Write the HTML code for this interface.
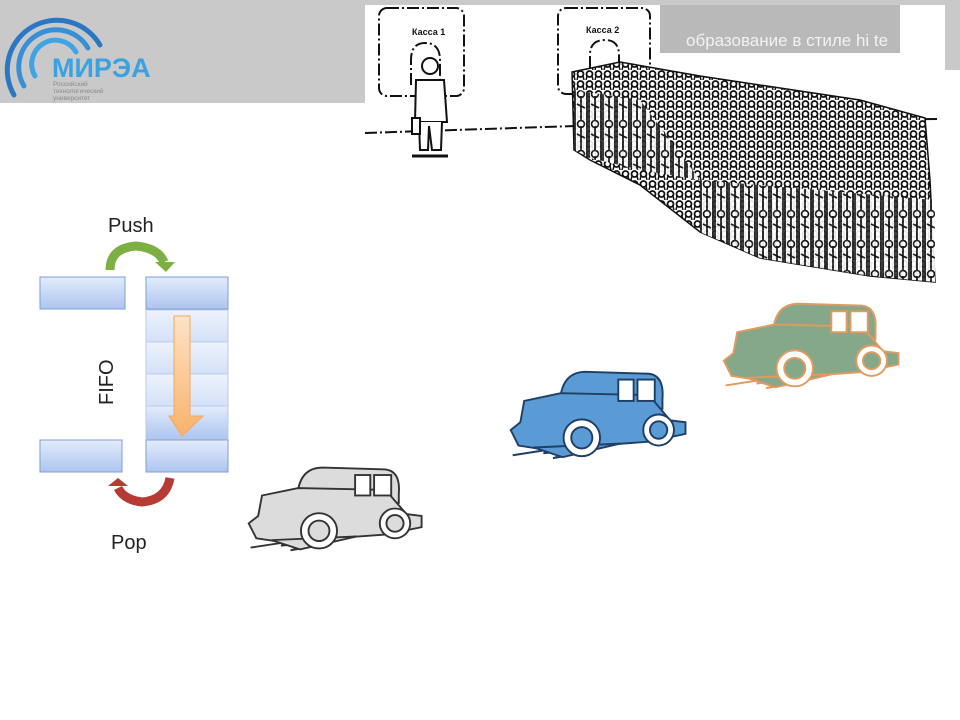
<!DOCTYPE html>
<html><head><meta charset="utf-8"><style>
html,body{margin:0;padding:0;background:#fff;}
body{width:960px;height:720px;position:relative;overflow:hidden;font-family:"Liberation Sans","DejaVu Sans",sans-serif;}
</style></head><body>
<svg width="960" height="720" viewBox="0 0 960 720" xmlns="http://www.w3.org/2000/svg" style="position:absolute;left:0;top:0">
<defs>
  <linearGradient id="bl" x1="0" y1="0" x2="0" y2="1">
    <stop offset="0" stop-color="#e3ecfc"/><stop offset="1" stop-color="#adc5ef"/>
  </linearGradient>
  <linearGradient id="bl2" x1="0" y1="0" x2="0" y2="1">
    <stop offset="0" stop-color="#eef3fd"/><stop offset="1" stop-color="#d3e0f7"/>
  </linearGradient>
  <linearGradient id="or" x1="0" y1="0" x2="0" y2="1">
    <stop offset="0" stop-color="#fde3c8"/><stop offset="1" stop-color="#f8b26a"/>
  </linearGradient>
  <pattern id="crowd" width="9" height="10" patternUnits="userSpaceOnUse">
    <rect width="9" height="10" fill="#fff"/>
    <circle cx="4.5" cy="4" r="3" fill="none" stroke="#111" stroke-width="1.8"/>
    <path d="M1 10 L2 6 M8 10 L7 6" stroke="#111" stroke-width="1.5"/>
  </pattern>
  <pattern id="bodies" width="14" height="30" patternUnits="userSpaceOnUse">
    <rect width="14" height="30" fill="#fff"/>
    <path d="M1 0 L1 30 M13 0 L13 30 M7 6 L7 30 M3 14 L11 18" stroke="#111" stroke-width="1.8"/>
    <circle cx="7" cy="4" r="3.5" fill="none" stroke="#111" stroke-width="1.6"/>
  </pattern>
  <g id="car">
    <path d="M8 92 L60 84 L40 90 L80 86 L50 95 L90 88" fill="none" stroke-width="2"/>
    <path d="M58 30 Q62 6 84 6 L150 8 Q166 10 164 34 L164 44 L60 40 Z"/>
    <path d="M20 36 L58 28 L150 30 L172 56 L188 58 L188 70 L150 78 L40 86 L14 82 L6 66 L16 58 Z"/>
    <path d="M30 84 L120 80 L60 94 Z"/>
  </g>
</defs>

<!-- header -->
<rect x="0" y="0" width="365" height="103" fill="#c9c9c9"/>
<rect x="365" y="0" width="595" height="5" fill="#c9c9c9"/>
<rect x="945" y="0" width="15" height="70" fill="#c9c9c9"/>
<rect x="660" y="5" width="240" height="48" fill="#b9b9b9"/>
<text x="686" y="46" font-size="17" fill="#f2f2f2">образование в стиле hi te</text>

<!-- logo -->
<g fill="none" stroke-linecap="round">
  <path d="M14 95 A42 42 0 1 1 100 45" stroke="#2a78c4" stroke-width="5"/>
  <path d="M24 86 A32 32 0 1 1 88 48" stroke="#3590d8" stroke-width="5"/>
  <path d="M35 76 A21 21 0 1 1 76 52" stroke="#3fa4e6" stroke-width="5"/>
</g>
<text x="52" y="77" font-size="27" font-weight="bold" fill="#3ba2e2">МИРЭА</text>
<text x="53" y="86" font-size="6.5" fill="#8a8a8a">Российский</text>
<text x="53" y="93" font-size="6.5" fill="#8a8a8a">технологический</text>
<text x="53" y="100" font-size="6.5" fill="#8a8a8a">университет</text>

<!-- kassa -->
<g fill="none" stroke="#111" stroke-width="2" stroke-dasharray="12 3 2 3">
  <rect x="379" y="8" width="85" height="88" rx="8"/>
  <rect x="558" y="8" width="92" height="86" rx="8"/>
  <path d="M411 85 L411 60 Q411 43 425 43 Q440 43 440 60 L440 85"/>
  <path d="M590 68 L590 55 Q590 40 605 40 Q619 40 619 55 L619 68"/>
  <path d="M365 133 L575 126 M825 120 L940 119"/>
</g>
<text x="412" y="35" font-size="9" font-weight="bold" fill="#111">Касса 1</text>
<text x="586" y="33" font-size="9" font-weight="bold" fill="#111">Касса 2</text>
<!-- person -->
<g fill="#fff" stroke="#111" stroke-width="2">
  <circle cx="430" cy="66" r="8"/>
  <path d="M416 80 L444 80 L447 122 L415 122 Z"/>
  <path d="M419 122 L420 150 L428 150 L429 126 L432 150 L441 150 L442 122"/>
  <rect x="412" y="118" width="8" height="16"/>
  <path d="M412 156 L448 156" stroke-width="3"/>
</g>
<!-- crowd -->
<path d="M572 72 L620 62 L700 76 L780 88 L860 100 L925 118 L930 180 L935 282 L870 276 L760 258 L700 232 L640 185 L590 160 L574 150 Z" fill="url(#crowd)" stroke="#111" stroke-width="1.5"/>
<path d="M700 180 L935 200 L935 282 L870 276 L760 258 L700 232 Z" fill="url(#bodies)" opacity="0.9"/>
<path d="M574 90 L640 100 L700 180 L640 170 L590 158 L574 150 Z" fill="url(#bodies)" opacity="0.9"/>

<!-- FIFO -->
<rect x="38" y="318" width="105" height="112" fill="#fff"/>
<g stroke="#7f9fd5" stroke-width="1">
  <rect x="40" y="277" width="85" height="32" fill="url(#bl)"/>
  <rect x="146" y="277" width="82" height="32" fill="url(#bl)"/>
  <rect x="146" y="310" width="82" height="32" fill="url(#bl2)" stroke="#b9cbe9"/>
  <rect x="146" y="342" width="82" height="32" fill="url(#bl2)" stroke="#b9cbe9"/>
  <rect x="146" y="374" width="82" height="32" fill="url(#bl2)" stroke="#b9cbe9"/>
  <rect x="146" y="406" width="82" height="33" fill="url(#bl)" stroke="#b9cbe9"/>
  <rect x="146" y="440" width="82" height="32" fill="url(#bl)"/>
  <rect x="40" y="440" width="82" height="32" fill="url(#bl)"/>
</g>
<path d="M174 316 L190 316 L190 416 L203 416 L182 436 L169 416 L174 416 Z" fill="url(#or)" stroke="#f5a85a" stroke-width="1"/>
<text transform="translate(113 405) rotate(-90)" font-size="20" fill="#222">FIFO</text>
<text x="108" y="232" font-size="20" fill="#222">Push</text>
<text x="111" y="549" font-size="20" fill="#222">Pop</text>
<path d="M110 270 Q110 248 136 246 Q158 248 164 262" fill="none" stroke="#7db043" stroke-width="9"/>
<path d="M155 262 L175 262 L166 272 Z" fill="#7db043"/>
<path d="M170 478 Q166 500 142 502 Q124 500 118 488" fill="none" stroke="#b83a34" stroke-width="9"/>
<path d="M108 486 L128 486 L118 478 Z" fill="#b83a34"/>

<!-- cars -->
<g transform="translate(243 462) scale(0.95 0.93)" fill="#dcdcdc" stroke="#333" stroke-width="2">
  <use href="#car"/>
  <circle cx="80" cy="74" r="19" fill="#fff"/><circle cx="80" cy="74" r="11" fill="#dcdcdc"/>
  <circle cx="160" cy="66" r="16" fill="#fff"/><circle cx="160" cy="66" r="9" fill="#dcdcdc"/>
  <rect x="118" y="14" width="16" height="22" fill="#fff"/><rect x="138" y="14" width="18" height="22" fill="#fff"/>
</g>
<g transform="translate(505 366) scale(0.96 0.97)" fill="#5b9bd5" stroke="#1f3f66" stroke-width="2">
  <use href="#car"/>
  <circle cx="80" cy="74" r="19" fill="#fff"/><circle cx="80" cy="74" r="11" fill="#5b9bd5"/>
  <circle cx="160" cy="66" r="16" fill="#fff"/><circle cx="160" cy="66" r="9" fill="#5b9bd5"/>
  <rect x="118" y="14" width="16" height="22" fill="#fff"/><rect x="138" y="14" width="18" height="22" fill="#fff"/>
</g>
<g transform="translate(718 298) scale(0.96 0.95)" fill="#86a88a" stroke="#e39a5e" stroke-width="2">
  <use href="#car"/>
  <circle cx="80" cy="74" r="19" fill="#fff"/><circle cx="80" cy="74" r="11" fill="#86a88a"/>
  <circle cx="160" cy="66" r="16" fill="#fff"/><circle cx="160" cy="66" r="9" fill="#86a88a"/>
  <rect x="118" y="14" width="16" height="22" fill="#fff"/><rect x="138" y="14" width="18" height="22" fill="#fff"/>
</g>
</svg>
</body></html>
